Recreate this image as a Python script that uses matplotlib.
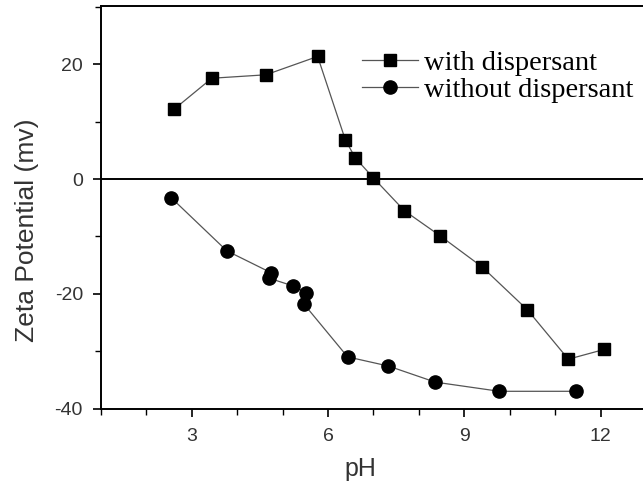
import matplotlib
matplotlib.use("Agg")
import matplotlib.pyplot as plt
from matplotlib.ticker import MultipleLocator

plt.rcParams["font.family"] = ["Liberation Sans", "DejaVu Sans"]
plt.rcParams["axes.unicode_minus"] = False

ph_with = [2.61, 3.44, 4.63, 5.77, 6.38, 6.60, 7.00, 7.68, 8.47, 9.39, 10.39, 11.29, 12.08]
zeta_with = [12.2, 17.6, 18.2, 21.4, 6.85, 3.7, 0.2, -5.5, -9.9, -15.3, -22.8, -31.4, -29.7]

ph_without = [2.54, 3.77, 4.74, 4.71, 5.22, 5.52, 5.47, 6.43, 7.33, 8.36, 9.77, 11.45]
zeta_without = [-3.2, -12.5, -16.3, -17.3, -18.6, -19.8, -21.8, -31.0, -32.6, -35.4, -37.0, -37.0]

xticks = [3, 6, 9, 12]
yticks = [-40, -20, 0, 20]

fig = plt.figure(figsize=(6.43, 4.84), dpi=100)
ax = fig.add_axes([101/643, (484-408.5)/484, 545/643, 402.5/484])

line_kw = dict(color="#555555", linewidth=0.9, markerfacecolor="black",
               markeredgecolor="black")
ax.plot(ph_with, zeta_with, marker="s", markersize=8.5, label="with dispersant", **line_kw)
ax.plot(ph_without, zeta_without, marker="o", markersize=9.5, label="without dispersant", **line_kw)

ax.axhline(0, color="black", linewidth=1.4, zorder=1)

ax.set_xlim(1, 13)
ax.set_ylim(-40, 30.2)
ax.set_xticks(xticks)
ax.set_yticks(yticks)
ax.xaxis.set_minor_locator(MultipleLocator(1))
ax.yaxis.set_minor_locator(MultipleLocator(10))
ax.tick_params(which="major", direction="out", length=6, width=1.2, labelsize=14,
               labelcolor="#333333", pad=7)
ax.tick_params(axis="x", which="major", pad=8)
ax.tick_params(which="minor", direction="out", length=4.5, width=1.0)
for s in ax.spines.values():
    s.set_linewidth(1.4)
    s.set_color("black")

ax.set_xlabel("pH", fontsize=18, color="#333333")
ax.set_ylabel("Zeta Potential (mv)", fontsize=19, color="#333333")
ax.xaxis.set_label_coords((360 - 101) / 545, (408.5 - 457) / 402.5)
ax.yaxis.set_label_coords((39 - 101) / 545, (408.5 - 230) / 402.5)

leg = ax.legend(loc="upper left", bbox_to_anchor=(362/643, 1 - 50/484),
                bbox_transform=fig.transFigure, frameon=False,
                prop={"family": "Liberation Serif", "size": 20.5},
                handlelength=1.95, handletextpad=0.22, labelspacing=0.05,
                borderpad=0.0, borderaxespad=0.0)

fig.savefig("out.png", dpi=100)
